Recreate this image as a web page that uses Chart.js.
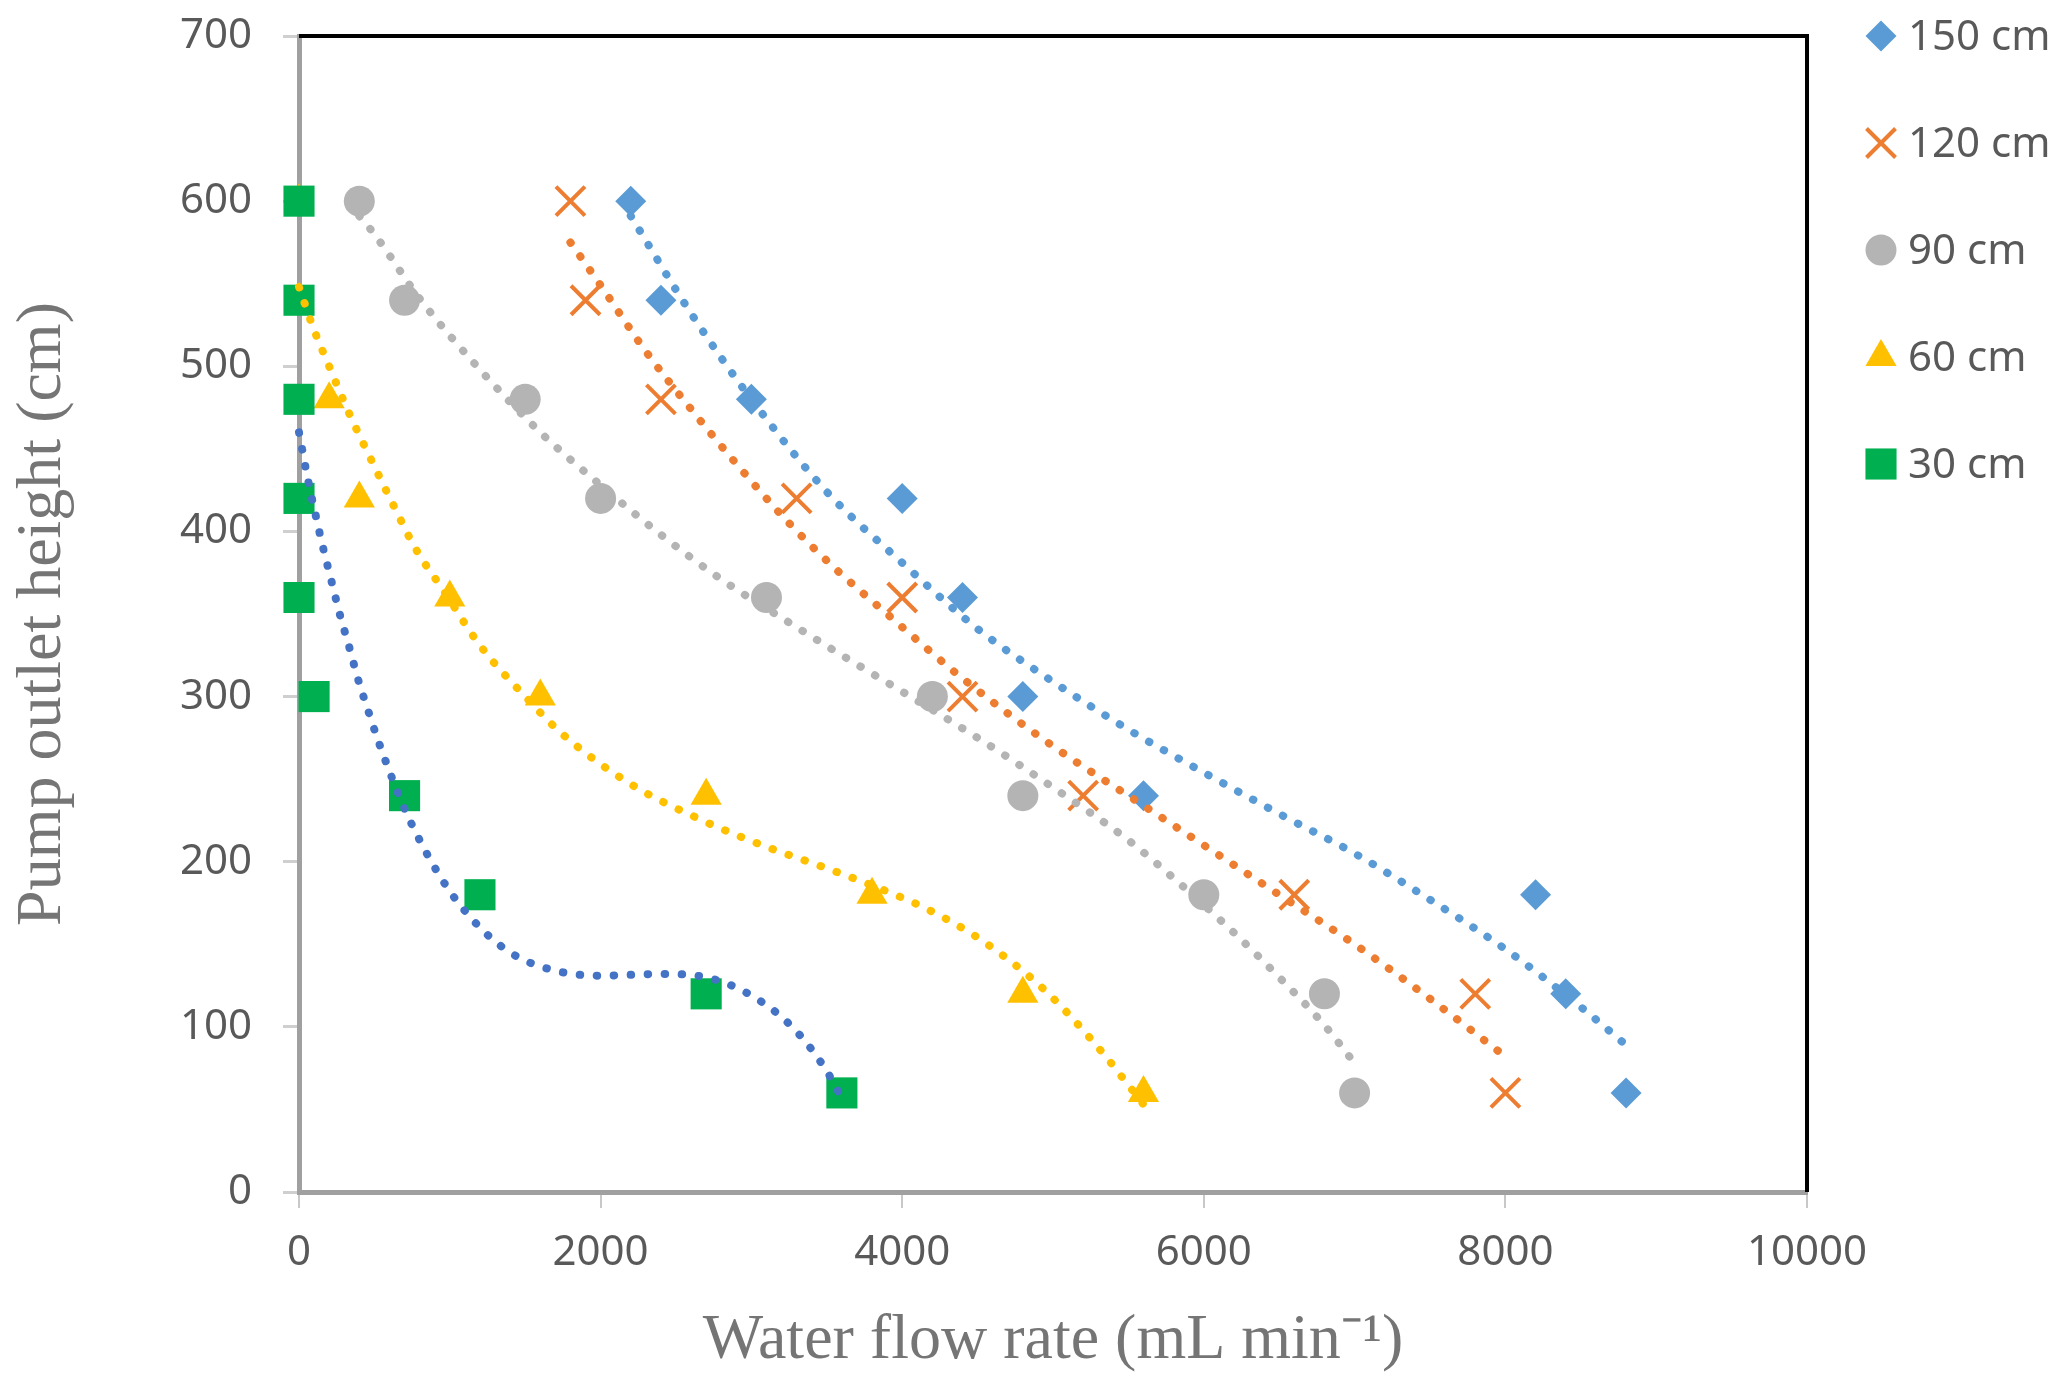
<!DOCTYPE html>
<html>
<head>
    <title>Pump outlet height vs water flow rate</title>
    <script src="https://cdn.jsdelivr.net/npm/chart.js"></script>
    <style>
        html, body { margin: 0; padding: 0; background: #ffffff; }
        #wrap { width: 2067px; height: 1394px; position: relative; }
    </style>
</head>
<body>
    <div id="wrap"><canvas id="flowChart"></canvas></div>

    <script>
        // alturas de salida medidas (cm), iguales para todas las series
        var heightLevels = [600, 540, 480, 420, 360, 300, 240, 180, 120, 60];

        // caudal medido (mL/min) para cada altura de entrada
        var flow150 = [2200, 2400, 3000, 4000, 4400, 4800, 5600, 8200, 8400, 8800];
        var flow120 = [1800, 1900, 2400, 3300, 4000, 4400, 5200, 6600, 7800, 8000];
        var flow90 = [400, 700, 1500, 2000, 3100, 4200, 4800, 6000, 6800, 7000];
        var flow60 = [0, 0, 200, 400, 1000, 1600, 2700, 3800, 4800, 5600];
        var flow30 = [0, 0, 0, 0, 0, 100, 700, 1200, 2700, 3600];

        var seriesLabels = ['150 cm', '120 cm', '90 cm', '60 cm', '30 cm'];

        // lineas de tendencia
        var trendX150 = [2200, 2600, 3000, 3500, 4000, 4500, 5000, 5500, 6000, 6500, 7000, 7500, 8000, 8500, 8800];
        var trendY150 = [591, 532, 480, 424, 381, 341, 309, 280, 254, 229, 205, 177, 147, 112, 89];
        var trendX120 = [1800, 2000, 2300, 2600, 2900, 3250, 3550, 3900, 4400, 5000, 5600, 6000, 6500, 7000, 7500, 8000];
        var trendY120 = [575, 549, 509, 474, 441, 405, 378, 350, 311, 270, 234, 210, 180, 150, 117, 82];
        var trendX90 = [400, 500, 800, 1200, 1600, 2000, 2400, 2800, 3300, 3600, 4000, 4500, 5000, 5500, 5800, 6200, 6500, 6800, 7000];
        var trendY90 = [591, 580, 541, 498, 460, 428, 398, 371, 342, 325, 303, 275, 245, 213, 190, 157, 130, 101, 78];
        var trendX60 = [0, 100, 200, 330, 470, 620, 770, 960, 1200, 1500, 1750, 2200, 2700, 3100, 3500, 3900, 4150, 4450, 4700, 4900, 5100, 5350, 5480, 5600];
        var trendY60 = [548, 522, 500, 472, 445, 417, 390, 364, 331, 300, 277, 247, 224, 209, 196, 182, 172, 157, 141, 126, 108, 82, 67, 53];
        var trendX30 = [0, 60, 110, 160, 215, 270, 330, 390, 460, 530, 570, 650, 735, 950, 1150, 1400, 1700, 2000, 2400, 2700, 3000, 3270, 3480, 3600];
        var trendY30 = [460, 431, 410, 390, 370, 350, 331, 311, 291, 272, 262, 243, 225, 189, 165, 145, 134, 131, 132, 130, 119, 100, 76, 57];

        var xTicks = [0, 2000, 4000, 6000, 8000, 10000];
        var yTicks = [0, 100, 200, 300, 400, 500, 600, 700];

        function toPoints(xs, ys) {
            var pts = [];
            for (var i = 0; i < xs.length; i++) {
                pts.push({ x: xs[i], y: ys[i] });
            }
            return pts;
        }

        function markerSet(label, xs, color, style, radius, order) {
            return {
                label: label,
                data: toPoints(xs, heightLevels),
                pointStyle: style,
                pointRadius: radius,
                pointHoverRadius: radius,
                backgroundColor: color,
                borderColor: color,
                pointBorderWidth: style === 'crossRot' ? 4 : 0,
                showLine: false,
                clip: false,
                order: order,
                inLegend: true
            };
        }

        function trendSet(xs, ys, color) {
            return {
                label: 'trend',
                data: toPoints(xs, ys),
                showLine: true,
                pointRadius: 0,
                pointHoverRadius: 0,
                borderColor: color,
                borderWidth: 8,
                borderDash: [0.5, 16.5],
                borderCapStyle: 'round',
                cubicInterpolationMode: 'monotone',
                clip: false,
                order: 0,
                inLegend: false
            };
        }

        var datasets = [
            markerSet(seriesLabels[0], flow150, '#5B9BD5', 'rectRot', 15.5, 5),
            markerSet(seriesLabels[1], flow120, '#ED7D31', 'crossRot', 20.5, 4),
            markerSet(seriesLabels[2], flow90, '#B4B4B4', 'circle', 15.5, 3),
            markerSet(seriesLabels[3], flow60, '#FFC000', 'triangle', 18, 2),
            markerSet(seriesLabels[4], flow30, '#00B050', 'rect', 22, 1),
            trendSet(trendX150, trendY150, '#5B9BD5'),
            trendSet(trendX120, trendY120, '#ED7D31'),
            trendSet(trendX90, trendY90, '#B4B4B4'),
            trendSet(trendX60, trendY60, '#FFC000'),
            trendSet(trendX30, trendY30, '#4472C4')
        ];

        // marco negro arriba y a la derecha del area del grafico
        var frameBorder = {
            id: 'frameBorder',
            beforeDatasetsDraw: function (chart) {
                var a = chart.chartArea;
                var ctx = chart.ctx;
                ctx.save();
                ctx.strokeStyle = '#000000';
                ctx.lineWidth = 4;
                ctx.beginPath();
                ctx.moveTo(a.left, a.top);
                ctx.lineTo(a.right, a.top);
                ctx.lineTo(a.right, a.bottom);
                ctx.stroke();
                ctx.restore();
            }
        };

        // leyenda propia a la derecha
        var sideLegend = {
            id: 'sideLegend',
            afterDraw: function (chart) {
                var ctx = chart.ctx;
                var n = 0;
                ctx.save();
                ctx.font = '42px "Noto Sans"';
                ctx.textBaseline = 'middle';
                ctx.textAlign = 'left';
                chart.data.datasets.forEach(function (ds) {
                    if (!ds.inLegend) return;
                    var y = 36 + n * 107;
                    ctx.fillStyle = ds.backgroundColor;
                    ctx.strokeStyle = ds.borderColor;
                    ctx.lineWidth = ds.pointBorderWidth;
                    Chart.helpers.drawPoint(ctx, {
                        pointStyle: ds.pointStyle,
                        rotation: 0,
                        radius: ds.pointRadius,
                        borderWidth: ds.pointBorderWidth
                    }, 1881, y);
                    ctx.fillStyle = '#595959';
                    ctx.fillText(ds.label, 1908, y + 2);
                    n++;
                });
                ctx.restore();
            }
        };

        var ctx = document.getElementById('flowChart').getContext('2d');

        var flowChart = new Chart(ctx, {
            type: 'scatter',
            data: { datasets: datasets },
            plugins: [frameBorder, sideLegend],
            options: {
                responsive: true,
                maintainAspectRatio: false,
                animation: false,
                devicePixelRatio: 1,
                layout: { padding: { top: 36, right: 260, left: 0, bottom: 0 } },
                plugins: {
                    legend: { display: false },
                    tooltip: { enabled: false }
                },
                scales: {
                    x: {
                        type: 'linear',
                        min: 0,
                        max: 10000,
                        afterBuildTicks: function (scale) {
                            scale.ticks = xTicks.map(function (v) { return { value: v }; });
                        },
                        afterFit: function (scale) { scale.height = 202; },
                        ticks: {
                            color: '#595959',
                            font: { family: 'Noto Sans', size: 42 },
                            padding: 20,
                            maxRotation: 0,
                            autoSkip: false,
                            callback: function (v) { return String(v); }
                        },
                        grid: {
                            drawOnChartArea: false,
                            drawTicks: true,
                            tickLength: 16,
                            color: '#C8C8C8',
                            lineWidth: 2
                        },
                        border: { display: true, color: '#A0A0A0', width: 5 },
                        title: {
                            display: true,
                            text: 'Water flow rate (mL min⁻¹)',
                            color: '#757575',
                            font: { family: 'Liberation Serif', size: 64 },
                            padding: { top: 0, bottom: 14 }
                        }
                    },
                    y: {
                        type: 'linear',
                        min: 0,
                        max: 700,
                        afterBuildTicks: function (scale) {
                            scale.ticks = yTicks.map(function (v) { return { value: v }; });
                        },
                        afterFit: function (scale) {
                            scale.width = 299;
                            scale.paddingTop = 0;
                            scale.paddingBottom = 0;
                        },
                        ticks: {
                            color: '#595959',
                            font: { family: 'Noto Sans', size: 42 },
                            padding: 31,
                            callback: function (v) { return String(v); }
                        },
                        grid: {
                            drawOnChartArea: false,
                            drawTicks: true,
                            tickLength: 16,
                            color: '#CFCFCF',
                            lineWidth: 3
                        },
                        border: { display: true, color: '#A0A0A0', width: 5 },
                        title: {
                            display: true,
                            text: 'Pump outlet height (cm)',
                            color: '#757575',
                            font: { family: 'Liberation Serif', size: 64 },
                            padding: { top: 5, bottom: 0 }
                        }
                    }
                }
            }
        });
    </script>
</body>
</html>
